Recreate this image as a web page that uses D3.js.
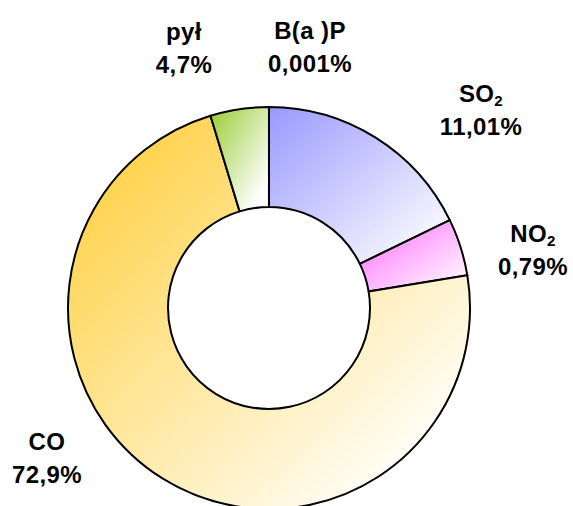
<!DOCTYPE html>
<html>
<head>
<meta charset="utf-8">
<script src="https://cdn.jsdelivr.net/npm/d3@7"></script>
<style>
  html, body { margin: 0; padding: 0; background: #ffffff; }
  svg { display: block; }
  text { font-family: "Liberation Sans", Arial, sans-serif; font-weight: bold; fill: #000; }
</style>
</head>
<body>
<svg id="chart" width="573" height="506"></svg>
<script>
// ---- data ----
const categories   = ["SO2", "NO2", "CO", "pył", "B(a )P"];
const values       = [17.8, 4.6, 72.9, 4.7, 0.001];
const valueLabels  = ["11,01%", "0,79%", "72,9%", "4,7%", "0,001%"];
const nameMain     = ["SO", "NO", "CO", "pył", "B(a )P"];
const nameSub      = ["2", "2", "", "", ""];

// ---- styles / layout (not data) ----
const colors   = ["#9999ff", "#ff66ff", "#ffcc33", "#99cc33", "#dddddd"];
const endCols  = ["#f8f8ff", "#fff4ff", "#fffdf5", "#ffffff", "#ffffff"];
const endOff   = [0.88, 0.9, 0.85, 0.85, 1];
const labelPos = [[481, 102], [533, 242], [47, 450], [184, 40], [310, 39]];
const lineGap = 33;

const W = 573, H = 506;
const cx = 269, cy = 308, rOuter = 201, rInner = 101;

const svg = d3.select("#chart");
const defs = svg.append("defs");

categories.forEach((c, i) => {
  const g = defs.append("linearGradient")
    .attr("id", "grad" + i)
    .attr("x1", "0").attr("y1", "0").attr("x2", "1").attr("y2", "1");
  g.append("stop").attr("offset", "0").attr("stop-color", colors[i]);
  g.append("stop").attr("offset", endOff[i]).attr("stop-color", endCols[i]);
});

const pie = d3.pie().sort(null).value(d => d).startAngle(0).endAngle(2 * Math.PI);
const arc = d3.arc().innerRadius(rInner).outerRadius(rOuter);

const gPie = svg.append("g").attr("transform", `translate(${cx},${cy})`);
gPie.selectAll("path")
  .data(pie(values))
  .join("path")
  .attr("d", arc)
  .attr("fill", (d, i) => `url(#grad${i})`)
  .attr("stroke", "#000")
  .attr("stroke-width", 2)
  .attr("stroke-linejoin", "round");

const gLab = svg.append("g");
categories.forEach((c, i) => {
  const [x, y] = labelPos[i];
  const t1 = gLab.append("text")
    .attr("x", x).attr("y", y)
    .attr("text-anchor", "middle")
    .attr("font-size", 24)
    .attr("letter-spacing", 0.4);
  t1.append("tspan").text(nameMain[i]);
  if (nameSub[i]) {
    t1.append("tspan").attr("font-size", 15).attr("dy", 4).text(nameSub[i]);
  }
  gLab.append("text")
    .attr("x", x).attr("y", y + lineGap)
    .attr("text-anchor", "middle")
    .attr("font-size", 24)
    .attr("letter-spacing", 0.4)
    .text(valueLabels[i]);
});
</script>
</body>
</html>
